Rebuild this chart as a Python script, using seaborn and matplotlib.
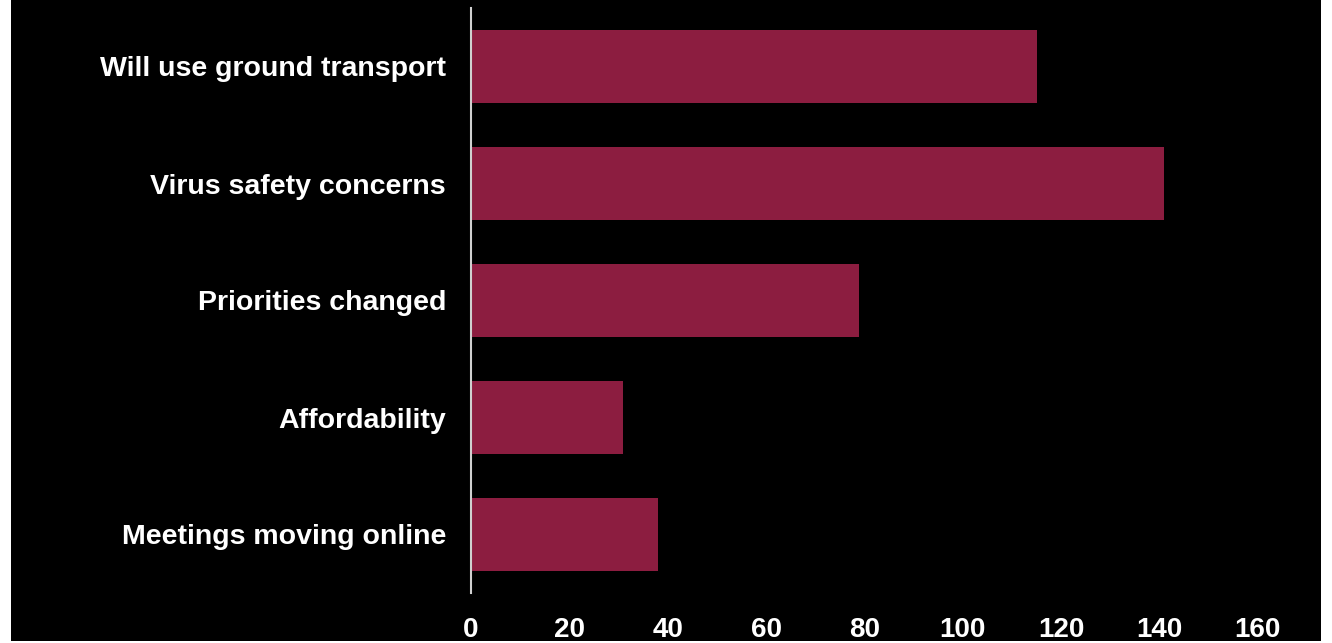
import matplotlib
matplotlib.use("Agg")
import matplotlib.pyplot as plt
from matplotlib.patches import Rectangle
import seaborn as sns
import pandas as pd

# Reasons respondents gave
reasons = [
    "Will use ground transport",
    "Virus safety concerns",
    "Priorities changed",
    "Affordability",
    "Meetings moving online",
]
counts = [115, 141, 79, 31, 38]
x_ticks = [0, 20, 40, 60, 80, 100, 120, 140, 160]

df = pd.DataFrame({"reason": reasons, "count": counts})

sns.set_theme(style="white")
plt.rcParams["font.family"] = ["Liberation Sans", "DejaVu Sans"]

W, H = 1332, 643
fig = plt.figure(figsize=(W / 100, H / 100), dpi=100, facecolor="white")

# dark panel behind the chart, leaving thin white margins
fig.patches.append(Rectangle((11 / W, 2 / H), 1310 / W, 641 / H,
                             transform=fig.transFigure, facecolor="black",
                             edgecolor="none", zorder=-10))

ax = fig.add_axes([471 / W, 50 / H, (1307 - 471) / W, 585 / H])
ax.set_facecolor("none")

sns.barplot(data=df, x="count", y="reason", orient="h", color="#8C1D40",
            saturation=1, width=0.62, linewidth=0, ax=ax)

ax.set_xlim(0, 170)
ax.set_ylim(4.5, -0.5)
ax.set_xticks(x_ticks)
ax.set_xticklabels([str(t) for t in x_ticks])
ax.set_xlabel("")
ax.set_ylabel("")

for s in ["top", "right", "bottom"]:
    ax.spines[s].set_visible(False)
ax.spines["left"].set_color("#d0d0d0")
ax.spines["left"].set_linewidth(1.5)

ax.tick_params(axis="x", length=0, pad=17, labelsize=20, labelcolor="white")
ax.tick_params(axis="y", length=0, pad=18, labelsize=20.5, labelcolor="white")
for lbl in ax.get_xticklabels() + ax.get_yticklabels():
    lbl.set_fontweight("bold")

fig.savefig("out.png", dpi=100, facecolor="white")
